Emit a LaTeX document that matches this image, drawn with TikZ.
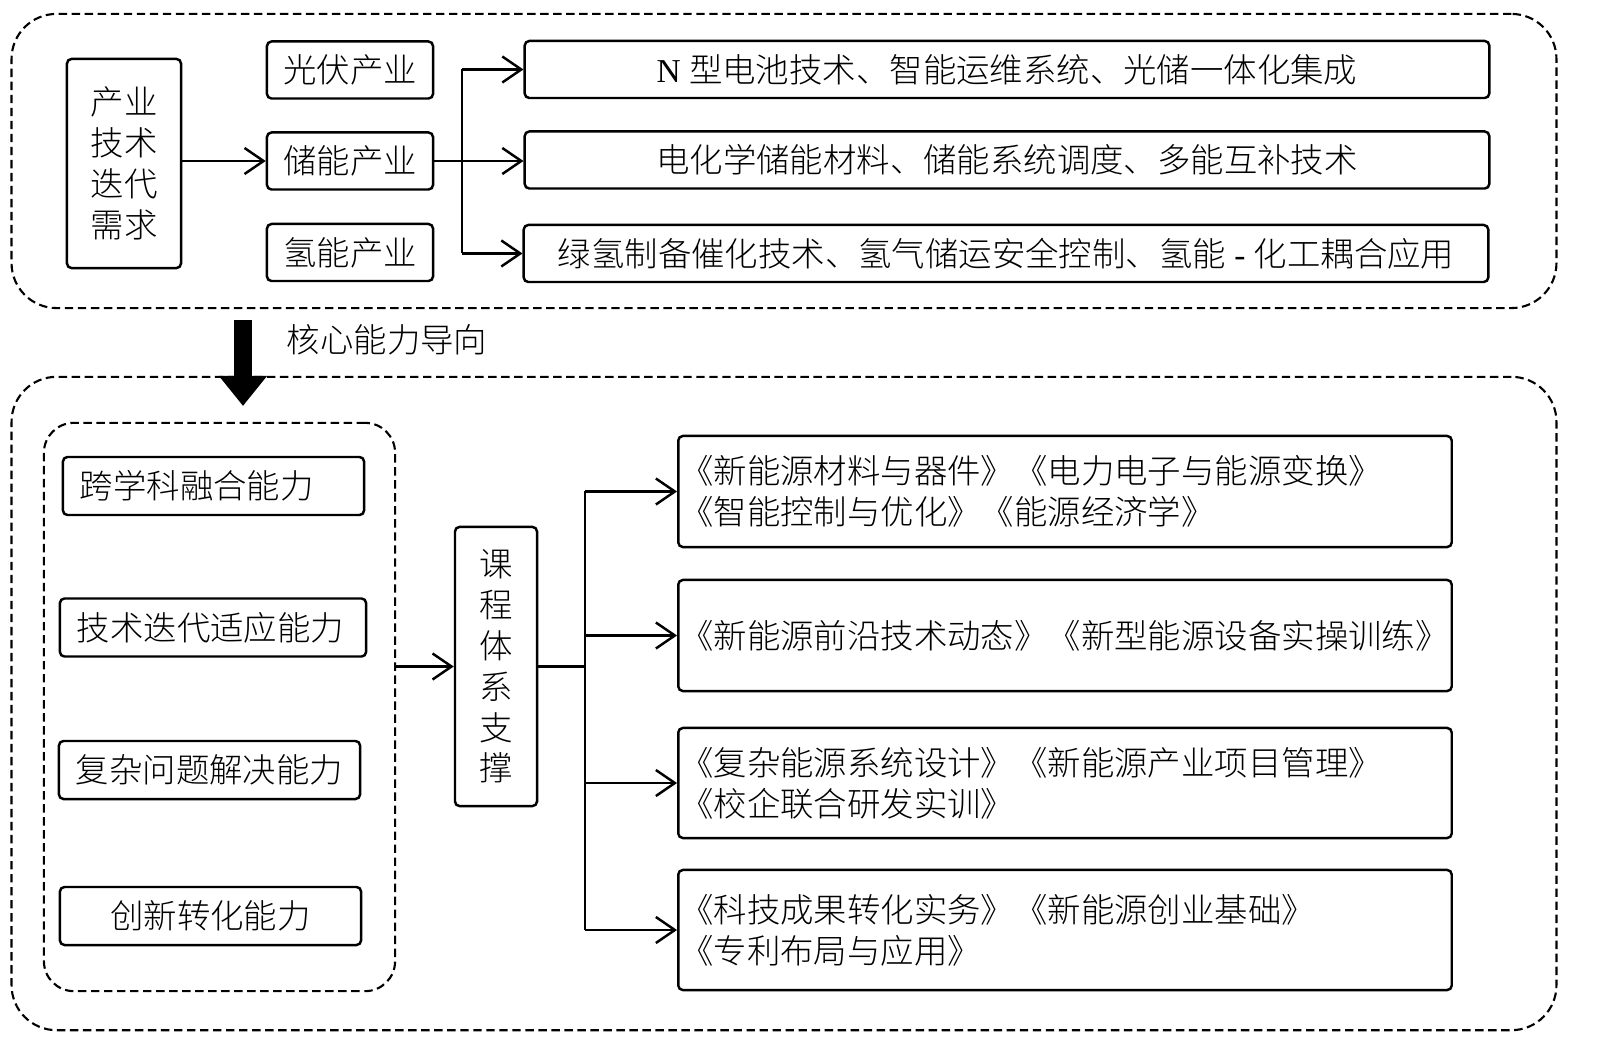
\documentclass[tikz,border=0pt]{standalone}
\usepackage{fontspec}
\setmainfont{Noto Sans CJK SC}[UprightFont=* Light]
\newfontfamily\lat{Liberation Serif}
\usepackage{tikz}
\usetikzlibrary{shapes,arrows,arrows.meta,positioning,fit,calc,matrix}

\begin{document}%
\begin{tikzpicture}[x=0.01cm, y=-0.01cm,
      every node/.style = {font=\fontsize{9.5pt}{11.6pt}\selectfont, inner sep=0pt},
      box/.style = {draw, line width=0.7pt, rounded corners=1.3pt},
      grp/.style = {draw, line width=0.6pt, dash pattern=on 2.4pt off 1.3pt},
      ind/.style = {box, minimum width=1.66cm, minimum height=0.57cm},
      tech/.style = {box, minimum width=9.64cm, minimum height=0.57cm},
      cap/.style = {box, minimum height=0.58cm, text width=#1, align=left, inner xsep=0.17cm},
      crs/.style = {box, minimum height=#1, text width=7.69cm, align=left, inner xsep=0.02cm},
      arr/.style = {line width=0.7pt, -{Straight Barb[length=1.9mm,width=2.6mm]}},
      ln/.style = {line width=0.7pt}
    ]
    \node[grp, rounded corners=0.45cm, minimum width=15.44cm, minimum height=2.94cm] (top) at (784,161) {};
    \node[grp, rounded corners=0.45cm, minimum width=15.44cm, minimum height=6.53cm] (bot) at (784,703.5) {};

    \node[box, minimum width=1.14cm, minimum height=2.09cm, align=center] (need) at (124,163.5) {产业\\技术\\迭代\\需求};
    \node[ind] (pv) at (350,70) {光伏产业};
    \node[ind] (es) at (350,161) {储能产业};
    \node[ind] (h2) at (350,252.5) {氢能产业};
    \node[tech] (t1) at (1007,69.5) {{\lat N }型电池技术、智能运维系统、光储一体化集成};
    \node[tech] (t2) at (1007,160) {电化学储能材料、储能系统调度、多能互补技术};
    \node[tech] (t3) at (1006,253.5) {绿氢制备催化技术、氢气储运安全控制、氢能{\lat\ -\ }化工耦合应用};

    \coordinate (b1) at (462,0);
    \draw[arr] (need.east |- es.west) -- (es.west);
    \draw[ln] (t1.west -| b1) -- (t3.west -| b1);
    \draw[arr] (es.east) -- (es.east -| t2.west);
    \foreach \t in {t1,t3}
      \draw[arr] (\t.west -| b1) -- (\t.west);

    \coordinate (d1) at (243,320);
    \coordinate (d2) at (243,406);
    \draw[line width=0.18cm, -{Triangle[length=0.3cm,width=0.46cm]}] (d1) -- (d2);
    \node (lbl) at (387,340) {核心能力导向};

    \node[grp, rounded corners=0.3cm, minimum width=3.51cm, minimum height=5.68cm] (abil) at (219.5,707) {};
    \node[cap=2.67cm] (c1) at (213.5,486) {跨学科融合能力};
    \node[cap=2.72cm] (c2) at (213,627.5) {技术迭代适应能力};
    \node[cap=2.67cm] (c3) at (209.5,770) {复杂问题解决能力};
    \node[cap=2.67cm, align=center] (c4) at (210.5,916) {创新转化能力};

    \node[box, minimum width=0.82cm, minimum height=2.79cm, align=center] (course) at (496,666.5) {课\\程\\体\\系\\支\\撑};
    \node[crs=1.11cm] (k1) at (1065,491.5) {《新能源材料与器件》《电力电子与能源变换》\\《智能控制与优化》《能源经济学》};
    \node[crs=1.11cm] (k2) at (1065,635.5) {《新能源前沿技术动态》《新型能源设备实操训练》};
    \node[crs=1.10cm] (k3) at (1065,783) {《复杂能源系统设计》《新能源产业项目管理》\\《校企联合研发实训》};
    \node[crs=1.20cm] (k4) at (1065,930) {《科技成果转化实务》《新能源创业基础》\\《专利布局与应用》};

    \coordinate (b2) at (585,0);
    \draw[arr] (abil.east |- course.west) -- (course.west);
    \draw[ln] (course.east) -- (course.east -| b2);
    \draw[ln] (k1.west -| b2) -- (k4.west -| b2);
    \foreach \k in {k1,k2,k3,k4}
      \draw[arr] (\k.west -| b2) -- (\k.west);

    \pgfresetboundingbox
    \useasboundingbox (0,0) rectangle (1600,1064);
  \end{tikzpicture}%
\end{document}
